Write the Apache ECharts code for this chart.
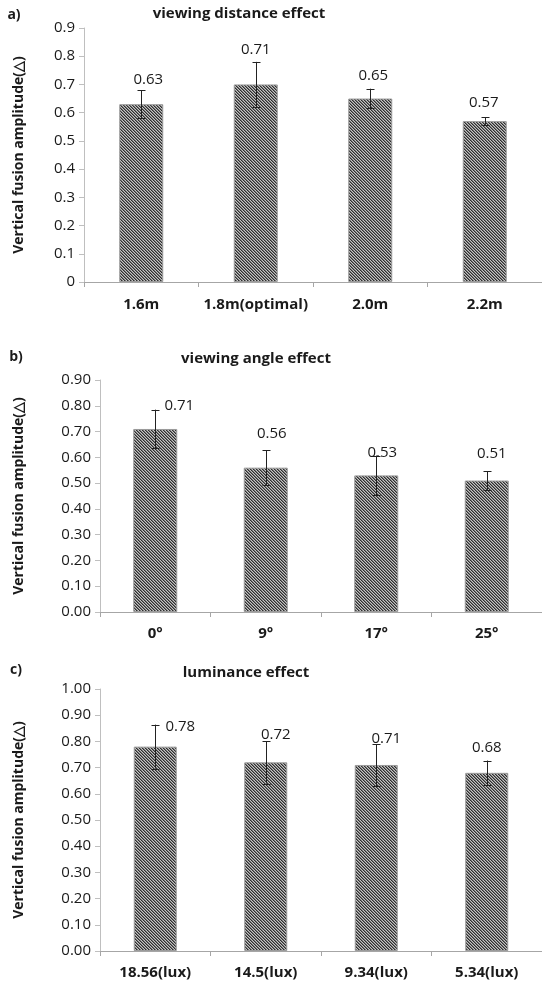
<!DOCTYPE html>
<html><head><meta charset="utf-8">
<script src="https://cdn.jsdelivr.net/npm/echarts@6/dist/echarts.min.js"></script>
<style>html,body{margin:0;padding:0;background:#fff}#c{width:542px;height:985px}</style>
</head><body><div id="c"></div>
<script>
// ---- data ----
const catsA = ['1.6m', '1.8m(optimal)', '2.0m', '2.2m'];
const valuesA = [0.63, 0.70, 0.65, 0.57];
const labelsA = ['0.63', '0.71', '0.65', '0.57'];
const errorsA = [0.05, 0.08, 0.035, 0.013];
const ticksA = ['0', '0.1', '0.2', '0.3', '0.4', '0.5', '0.6', '0.7', '0.8', '0.9'];

const catsB = ['0°', '9°', '17°', '25°'];
const valuesB = [0.71, 0.56, 0.53, 0.51];
const labelsB = ['0.71', '0.56', '0.53', '0.51'];
const errorsB = [0.075, 0.067, 0.077, 0.036];
const ticksB = ['0.00', '0.10', '0.20', '0.30', '0.40', '0.50', '0.60', '0.70', '0.80', '0.90'];

const catsC = ['18.56(lux)', '14.5(lux)', '9.34(lux)', '5.34(lux)'];
const valuesC = [0.78, 0.72, 0.71, 0.68];
const labelsC = ['0.78', '0.72', '0.71', '0.68'];
const errorsC = [0.084, 0.081, 0.08, 0.047];
const ticksC = ['0.00', '0.10', '0.20', '0.30', '0.40', '0.50', '0.60', '0.70', '0.80', '0.90', '1.00'];

const titles = ['viewing distance effect', 'viewing angle effect', 'luminance effect'];
const letters = ['a)', 'b)', 'c)'];
const yTitle = 'Vertical fusion amplitude(△)';

// ---- layout / style ----
const FONT = '"Open Sans", Lato, sans-serif';
const panels = [
  {cats: catsA, vals: valuesA, labels: labelsA, errs: errorsA, ticks: ticksA,
   grid: {left: 84, top: 28, width: 461, height: 254}, barWidth: 44,
   nudge: [[7, -10], [0, -12], [3, -13], [-1, -15]],
   titleX: 239, titleY: 14, letterX: 14, letterY: 15, yTitleX: 19, margin: 15},
  {cats: catsB, vals: valuesB, labels: labelsB, errs: errorsB, ticks: ticksB,
   grid: {left: 100, top: 380, width: 452, height: 232}, barWidth: 44,
   nudge: [[24, -4], [6, -17], [6, -3], [5, -18]],
   titleX: 256, titleY: 359, letterX: 16, letterY: 357, yTitleX: 19, margin: 14},
  {cats: catsC, vals: valuesC, labels: labelsC, errs: errorsC, ticks: ticksC,
   grid: {left: 100, top: 689, width: 447, height: 262}, barWidth: 43,
   nudge: [[25, 2], [10, -6], [10, -5], [0, -13]],
   titleX: 246, titleY: 673, letterX: 16, letterY: 670, yTitleX: 19, margin: 14}
];

// hatch pattern (fine diagonal lines)
const pat = document.createElement('canvas');
pat.width = 3; pat.height = 3;
const pc = pat.getContext('2d');
const shades = ['#2e2e2e', '#767676', '#c4c4c4'];
for (let y = 0; y < 3; y++) for (let x = 0; x < 3; x++) {
  pc.fillStyle = shades[(x - y + 6) % 3];
  pc.fillRect(x, y, 1, 1);
}

const grids = [], xAxes = [], yAxes = [], series = [], graphics = [];
panels.forEach((p, k) => {
  const tmin = parseFloat(p.ticks[0]);
  const tint = parseFloat(p.ticks[1]) - tmin;
  const tmax = parseFloat(p.ticks[p.ticks.length - 1]);
  grids.push(Object.assign({containLabel: false}, p.grid));
  xAxes.push({
    type: 'category', gridIndex: k, data: p.cats,
    axisLine: {lineStyle: {color: '#a6a6a6', width: 1}},
    axisTick: {show: true, alignWithLabel: false, interval: 0, length: 5, lineStyle: {color: '#a6a6a6'}},
    axisLabel: {color: '#1a1a1a', fontFamily: FONT, fontWeight: 'bold', fontSize: 15, margin: p.margin, interval: 0},
    splitLine: {show: false}
  });
  yAxes.push({
    type: 'value', gridIndex: k, min: tmin, max: tmax, interval: tint,
    axisLine: {show: true, lineStyle: {color: '#bfbfbf'}},
    axisTick: {show: true, length: 5, lineStyle: {color: '#bfbfbf'}},
    axisLabel: {color: '#1a1a1a', fontFamily: FONT, fontSize: 15, margin: 9,
      formatter: v => p.ticks[Math.round((v - tmin) / tint)]},
    splitLine: {show: false}
  });
  series.push({
    type: 'bar', xAxisIndex: k, yAxisIndex: k, barWidth: p.barWidth,
    data: p.vals,
    itemStyle: {color: {image: pat, repeat: 'repeat'}, borderColor: '#9a9a9a', borderWidth: 1}
  });
  series.push({
    type: 'custom', xAxisIndex: k, yAxisIndex: k, z: 5,
    data: p.vals.map((v, i) => [i, v - p.errs[i], v + p.errs[i]]),
    renderItem: (params, api) => {
      const i = api.value(0);
      const top = api.coord([i, api.value(2)]);
      const bot = api.coord([i, api.value(1)]);
      const x = Math.round(top[0]) + 0.5;
      const cw = 4;
      const st = {stroke: '#222', lineWidth: 1};
      const n = p.nudge[i];
      return {type: 'group', children: [
        {type: 'line', shape: {x1: x, y1: top[1], x2: x, y2: bot[1]}, style: st},
        {type: 'line', shape: {x1: x - cw, y1: Math.round(top[1]) + 0.5, x2: x + cw, y2: Math.round(top[1]) + 0.5}, style: st},
        {type: 'line', shape: {x1: x - cw, y1: Math.round(bot[1]) + 0.5, x2: x + cw, y2: Math.round(bot[1]) + 0.5}, style: st},
        {type: 'text', style: {text: p.labels[i], x: top[0] + n[0], y: top[1] + n[1],
          align: 'center', verticalAlign: 'middle', fontFamily: FONT, fontSize: 15, fill: '#1a1a1a'}}
      ]};
    }
  });
  graphics.push({type: 'text',
    style: {text: titles[k], x: p.titleX, y: p.titleY, align: 'center', verticalAlign: 'middle',
      fontFamily: FONT, fontWeight: 'bold', fontSize: 15, fill: '#1a1a1a'}});
  graphics.push({type: 'text',
    style: {text: letters[k], x: p.letterX, y: p.letterY, align: 'center', verticalAlign: 'middle',
      fontFamily: FONT, fontWeight: 'bold', fontSize: 14, fill: '#1a1a1a'}});
  graphics.push({type: 'text', x: p.yTitleX, y: p.grid.top + p.grid.height / 2, rotation: Math.PI / 2,
    style: {text: yTitle, x: 0, y: 0, align: 'center', verticalAlign: 'middle',
      fontFamily: FONT, fontWeight: 'bold', fontSize: 14, fill: '#1a1a1a'}});
});

const chart = echarts.init(document.getElementById('c'), null, {renderer: 'canvas'});
chart.setOption({
  animation: false,
  backgroundColor: '#fff',
  grid: grids, xAxis: xAxes, yAxis: yAxes, series: series, graphic: graphics
});
</script></body></html>
